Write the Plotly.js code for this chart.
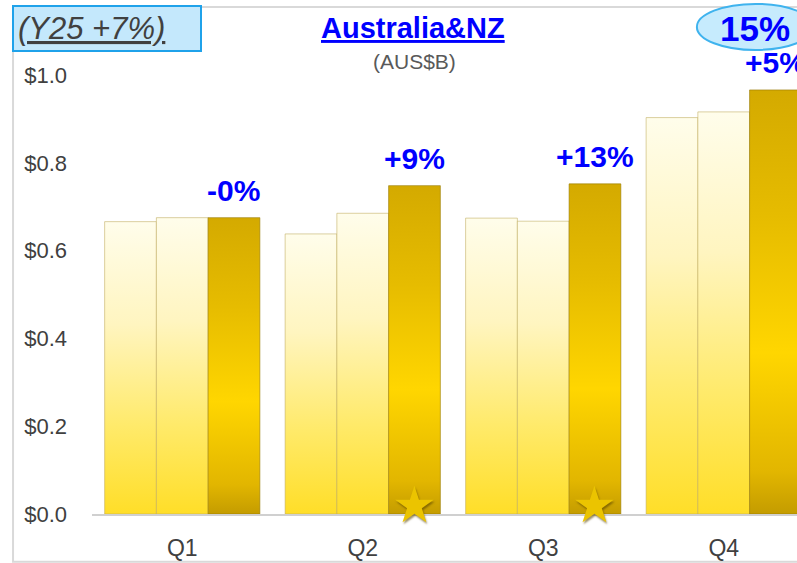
<!DOCTYPE html>
<html>
<head>
<meta charset="utf-8">
<script src="https://cdn.plot.ly/plotly-3.0.1.min.js"></script>
<style>
  html, body { margin: 0; padding: 0; background: #fff; }
  #chart { width: 797px; height: 563px; }
</style>
</head>
<body>
<div id="chart"></div>
<script>
// quarterly revenue, AUS$B
const quarters = ['Q1', 'Q2', 'Q3', 'Q4'];
const fy23 = [0.666, 0.638, 0.674, 0.903];
const fy24 = [0.675, 0.685, 0.667, 0.916];
const fy25 = [0.675, 0.748, 0.752, 0.966];
const growth = ['-0%', '+9%', '+13%', '+5%'];
const starred = ['Q2', 'Q3'];
const yTicks = [0, 0.2, 0.4, 0.6, 0.8, 1.0];
const yTickText = ['$0.0', '$0.2', '$0.4', '$0.6', '$0.8', '$1.0'];
const yearGrowth = '(Y25 +7%)';
const q4Growth = '15%';

const FONT = 'Arial, "Liberation Sans", sans-serif';
const BARGAP = 0.14;
const barW = (1 - BARGAP) / 3;   // width of one bar in category units

const lightBar = {color: '#FFF0A0', line: {color: 'rgba(190,170,90,0.55)', width: 1}};
const darkBar = {color: '#E0B800', line: {color: 'rgba(150,120,0,0.6)', width: 1}};

var data = [
  {type: 'bar', x: quarters, y: fy23, marker: lightBar, hoverinfo: 'y'},
  {type: 'bar', x: quarters, y: fy24, marker: lightBar, hoverinfo: 'y'},
  {type: 'bar', x: quarters, y: fy25, marker: darkBar, hoverinfo: 'y'}
];

var annotations = [];

// growth labels above the latest-year bars
quarters.forEach((q, i) => {
  annotations.push({
    x: i + barW, y: fy25[i], xref: 'x', yref: 'y',
    text: '<b>' + growth[i] + '</b>', showarrow: false,
    xanchor: 'center', yanchor: 'middle', yshift: 27,
    font: {family: FONT, size: 30, color: '#0000FF'}
  });
});

// stars at the foot of the record quarters
starred.forEach(q => {
  annotations.push({
    x: quarters.indexOf(q) + barW, y: 0, xref: 'x', yref: 'y',
    text: '★', showarrow: false, xanchor: 'center', yanchor: 'middle', yshift: 9,
    font: {family: 'DejaVu Sans', size: 50, color: '#EBC400', shadow: '1px 2px 2px rgba(90,70,0,0.6)'}
  });
});

annotations.push(
  {
    x: 0.456, y: 1.107, xref: 'paper', yref: 'paper',
    xanchor: 'center', yanchor: 'middle',
    text: '<u><b>Australia&amp;NZ</b></u>', showarrow: false,
    font: {family: FONT, size: 29, color: '#0000FF'}
  },
  {
    x: 0.458, y: 1.030, xref: 'paper', yref: 'paper',
    xanchor: 'center', yanchor: 'middle',
    text: '(AUS$B)', showarrow: false,
    font: {family: FONT, size: 21, color: '#595959'}
  },
  {
    x: -0.1135, y: 1.159, xref: 'paper', yref: 'paper',
    xanchor: 'left', yanchor: 'top', align: 'left',
    width: 178, height: 35, borderpad: 4, borderwidth: 2,
    bgcolor: '#C4E8FC', bordercolor: '#1FA2EA',
    text: '<u><i>' + yearGrowth + '</i></u>', showarrow: false,
    font: {family: FONT, size: 31, color: '#404040'}
  },
  {
    x: 0.941, y: 1.107, xref: 'paper', yref: 'paper',
    xanchor: 'center', yanchor: 'middle',
    text: '<b>' + q4Growth + '</b>', showarrow: false,
    font: {family: FONT, size: 35, color: '#0000FF'}
  }
);

var layout = {
  width: 797, height: 563,
  margin: {l: 92, r: 0, t: 75, b: 49},
  paper_bgcolor: '#fff', plot_bgcolor: 'rgba(0,0,0,0)',
  barmode: 'group', bargap: BARGAP, bargroupgap: 0,
  showlegend: false,
  font: {family: FONT, color: '#404040'},
  xaxis: {
    type: 'category', range: [-0.5, 3.406],
    showline: true, linecolor: '#D0D0D0', linewidth: 2,
    showgrid: false, ticks: '', ticklabelstandoff: 12,
    tickfont: {family: FONT, size: 23, color: '#404040'}
  },
  yaxis: {
    range: [0, 1.0], tickmode: 'array', tickvals: yTicks, ticktext: yTickText,
    showline: false, showgrid: false, zeroline: false, ticks: '',
    ticklabelstandoff: 24,
    tickfont: {family: FONT, size: 22, color: '#404040'}
  },
  shapes: [
    // slide frame
    {type: 'rect', xref: 'paper', yref: 'paper', layer: 'below',
     x0: -0.112, x1: 1.05, y0: -0.109, y1: 1.155,
     line: {color: '#D9D9D9', width: 2}, fillcolor: 'rgba(0,0,0,0)'},
    // bubble behind the Q4 figure
    {type: 'circle', xref: 'paper', yref: 'paper',
     x0: 0.858, x1: 1.024, y0: 1.057, y1: 1.162,
     line: {color: '#3FB3EE', width: 2}, fillcolor: '#C6EBFD'}
  ],
  annotations: annotations
};

var gd = document.getElementById('chart');
Plotly.newPlot(gd, data, layout, {staticPlot: true}).then(() => {
  // vertical gradients like the original bevelled bars
  var svg = gd.querySelector('.main-svg');
  var defs = svg.querySelector('defs');
  var ns = 'http://www.w3.org/2000/svg';
  var grads = {
    light: [[0, '#FFFDEB'], [0.35, '#FFF5C0'], [0.7, '#FFEA6A'], [1, '#FFDE28']],
    dark: [[0, '#D4AA00'], [0.3, '#E6BC00'], [0.62, '#FFD600'], [0.9, '#E2B600'], [1, '#C49C00']]
  };
  Object.keys(grads).forEach(k => {
    var lg = document.createElementNS(ns, 'linearGradient');
    lg.setAttribute('id', 'bar-' + k);
    lg.setAttribute('x1', '0'); lg.setAttribute('y1', '0');
    lg.setAttribute('x2', '0'); lg.setAttribute('y2', '1');
    grads[k].forEach(s => {
      var st = document.createElementNS(ns, 'stop');
      st.setAttribute('offset', s[0]);
      st.setAttribute('stop-color', s[1]);
      lg.appendChild(st);
    });
    defs.appendChild(lg);
  });
  gd.querySelectorAll('.barlayer .trace').forEach((tr, i) => {
    tr.querySelectorAll('.point path').forEach(p => {
      p.style.fill = 'url(#bar-' + (i < 2 ? 'light' : 'dark') + ')';
    });
  });
});
</script>
</body>
</html>
